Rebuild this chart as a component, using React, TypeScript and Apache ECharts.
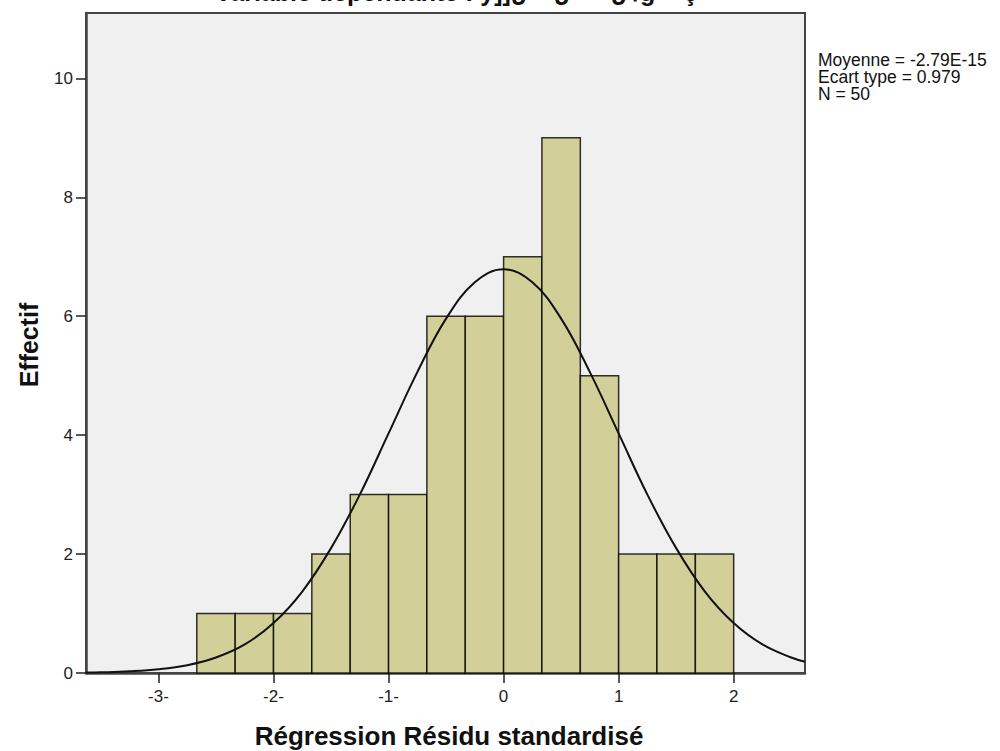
import React, { useEffect, useRef } from "react";
import * as echarts from "echarts";

// Histogram bins (standardised residual) and counts
const binLow = [-2.667, -2.333, -2.0, -1.667, -1.333, -1.0, -0.667, -0.333, 0.0, 0.333, 0.667, 1.0, 1.333, 1.667];
const binHigh = [-2.333, -2.0, -1.667, -1.333, -1.0, -0.667, -0.333, 0.0, 0.333, 0.667, 1.0, 1.333, 1.667, 2.0];
const counts = [1, 1, 1, 2, 3, 3, 6, 6, 7, 9, 5, 2, 2, 2];

// Normal curve, values
const curveX = [-3.63, -3.5, -3.25, -3.0, -2.75, -2.5, -2.25, -2.0, -1.75, -1.5, -1.25, -1.0, -0.75, -0.5, -0.25, 0.0, 0.25, 0.5, 0.75, 1.0, 1.25, 1.5, 1.75, 2.0, 2.25, 2.5, 2.62];
const curveY = [0.007, 0.011, 0.028, 0.062, 0.131, 0.26, 0.48, 0.84, 1.37, 2.1, 3.0, 4.03, 5.06, 5.96, 6.57, 6.79, 6.57, 5.96, 5.06, 4.03, 3.0, 2.1, 1.37, 0.84, 0.48, 0.26, 0.19];

const xTickValues = [-3, -2, -1, 0, 1, 2];
const xTickLabels = ["-3-", "-2-", "-1-", "0", "1", "2"];
const yTickValues = [0, 2, 4, 6, 8, 10];
const yTickLabels = ["0", "2", "4", "6", "8", "10"];

const statLines = ["Moyenne = -2.79E-15", "Ecart type = 0.979", "N = 50"];
const titleText = "Variable dépendante : ÿ]]¿ ‒ ¿ ‒‒ ¿ /g ‒ ç";
const xTitle = "Régression Résidu standardisé";
const yTitle = "Effectif";

const FONT = "'Liberation Sans', Arial, sans-serif";

export default function App() {
  const ref = useRef<HTMLDivElement>(null);
  useEffect(() => {
    if (!ref.current) return;
    const chart = echarts.init(ref.current, null, { renderer: "svg" });
    const barData = binLow.map((lo, i) => [lo, binHigh[i], counts[i]]);
    const lineData = curveX.map((x, i) => [x, curveY[i]]);
    chart.setOption({
      animation: false,
      backgroundColor: "#ffffff",
      grid: {
        left: 86,
        right: 195,
        top: 13,
        bottom: 78,
        show: true,
        backgroundColor: "#f0f0f0",
        borderColor: "#444",
        borderWidth: 2,
      },
      xAxis: {
        type: "value",
        min: -3.63,
        max: 2.62,
        axisLine: { show: true, onZero: false, lineStyle: { color: "#444", width: 2.5 } },
        axisTick: { show: true, customValues: xTickValues, length: 10, lineStyle: { color: "#222", width: 1.5 } },
        axisLabel: {
          customValues: xTickValues,
          formatter: (v: number) => {
            const i = xTickValues.indexOf(Math.round(v));
            return i >= 0 ? xTickLabels[i] : "";
          },
          fontSize: 17,
          fontFamily: FONT,
          color: "#222",
          margin: 15,
        },
        splitLine: { show: false },
      },
      yAxis: {
        type: "value",
        min: 0,
        max: 11.1,
        axisLine: { show: true, onZero: false, lineStyle: { color: "#444", width: 2.5 } },
        axisTick: { show: true, customValues: yTickValues, length: 10, lineStyle: { color: "#222", width: 1.5 } },
        axisLabel: {
          customValues: yTickValues,
          formatter: (v: number) => {
            const i = yTickValues.indexOf(Math.round(v));
            return i >= 0 ? yTickLabels[i] : "";
          },
          fontSize: 17,
          fontFamily: FONT,
          color: "#222",
          margin: 13,
        },
        splitLine: { show: false },
      },
      series: [
        {
          type: "custom",
          data: barData,
          encode: { x: [0, 1], y: 2 },
          z: 2,
          renderItem: (params: any, api: any) => {
            const p0 = api.coord([api.value(0), api.value(2)]);
            const p1 = api.coord([api.value(1), 0]);
            return {
              type: "rect",
              shape: { x: p0[0], y: p0[1], width: p1[0] - p0[0], height: p1[1] - p0[1] },
              style: { fill: "#d3cf98", stroke: "rgba(0,0,0,0.8)", lineWidth: 1.5 },
            };
          },
        },
        {
          type: "line",
          data: lineData,
          smooth: 0.4,
          showSymbol: false,
          z: 5,
          lineStyle: { color: "#111", width: 2 },
        },
      ],
      graphic: [
        {
          type: "text",
          x: 215,
          y: 4,
          style: {
            text: titleText,
            font: `bold 25px ${FONT}`,
            fill: "#111",
            align: "left",
            verticalAlign: "bottom",
          },
        },
        {
          type: "text",
          x: 449,
          y: 736,
          style: {
            text: xTitle,
            font: `bold 26px ${FONT}`,
            fill: "#111",
            align: "center",
            verticalAlign: "middle",
          },
        },
        {
          type: "text",
          x: 29,
          y: 345,
          rotation: Math.PI / 2,
          style: {
            text: yTitle,
            font: `bold 25px ${FONT}`,
            fill: "#111",
            align: "center",
            verticalAlign: "middle",
          },
        },
        ...statLines.map((t, i) => ({
          type: "text",
          x: 818,
          y: 60 + i * 17,
          style: {
            text: t,
            font: `17.5px ${FONT}`,
            lineHeight: 16,
            fill: "#111",
            align: "left",
            verticalAlign: "middle",
          },
        })),
      ],
    });
    return () => chart.dispose();
  }, []);
  return (
    <div
      ref={ref}
      style={{ position: "fixed", left: 0, top: 0, width: 1000, height: 751 }}
    />
  );
}
